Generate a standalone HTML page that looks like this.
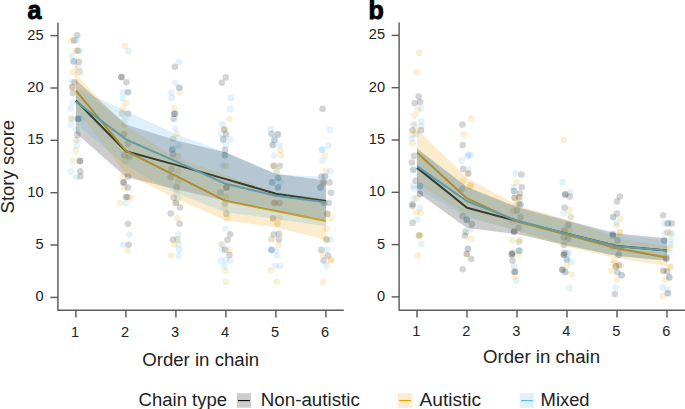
<!DOCTYPE html>
<html><head><meta charset="utf-8"><style>
html,body{margin:0;padding:0;background:#fff;}
svg{display:block;}
.t{font-family:"Liberation Sans",sans-serif;font-size:14.6px;fill:#222;}
.l{font-family:"Liberation Sans",sans-serif;font-size:17.6px;fill:#222;}
.pl{font-family:"Liberation Sans",sans-serif;font-size:25px;font-weight:bold;fill:#000;stroke:#000;stroke-width:0.9px;}
</style></head><body>
<svg width="685" height="409" viewBox="0 0 685 409">
<circle cx="77.1" cy="35.3" r="3.3" fill="#000000" fill-opacity="0.17"/>
<circle cx="71.5" cy="40.8" r="3.3" fill="#E69F00" fill-opacity="0.17"/>
<circle cx="74.2" cy="40.4" r="3.3" fill="#000000" fill-opacity="0.17"/>
<circle cx="76.7" cy="40.4" r="3.3" fill="#56B4E9" fill-opacity="0.17"/>
<circle cx="75.6" cy="50.7" r="3.3" fill="#E69F00" fill-opacity="0.17"/>
<circle cx="77.7" cy="50.7" r="3.3" fill="#000000" fill-opacity="0.17"/>
<circle cx="80.0" cy="50.7" r="3.3" fill="#56B4E9" fill-opacity="0.17"/>
<circle cx="71.8" cy="55.8" r="3.3" fill="#56B4E9" fill-opacity="0.17"/>
<circle cx="73.7" cy="61.4" r="3.3" fill="#000000" fill-opacity="0.17"/>
<circle cx="73.7" cy="61.4" r="3.3" fill="#56B4E9" fill-opacity="0.17"/>
<circle cx="78.9" cy="61.7" r="3.3" fill="#000000" fill-opacity="0.17"/>
<circle cx="78.9" cy="66.8" r="3.3" fill="#56B4E9" fill-opacity="0.17"/>
<circle cx="73.0" cy="71.9" r="3.3" fill="#E69F00" fill-opacity="0.17"/>
<circle cx="79.6" cy="71.9" r="3.3" fill="#56B4E9" fill-opacity="0.17"/>
<circle cx="79.6" cy="71.9" r="3.3" fill="#E69F00" fill-opacity="0.17"/>
<circle cx="71.5" cy="82.2" r="3.3" fill="#56B4E9" fill-opacity="0.17"/>
<circle cx="74.5" cy="82.2" r="3.3" fill="#000000" fill-opacity="0.17"/>
<circle cx="125.0" cy="46.0" r="3.3" fill="#E69F00" fill-opacity="0.17"/>
<circle cx="128.4" cy="51.1" r="3.3" fill="#56B4E9" fill-opacity="0.17"/>
<circle cx="121.4" cy="77.1" r="3.3" fill="#000000" fill-opacity="0.17"/>
<circle cx="121.4" cy="77.1" r="3.3" fill="#000000" fill-opacity="0.17"/>
<circle cx="126.5" cy="82.2" r="3.3" fill="#000000" fill-opacity="0.17"/>
<circle cx="72.3" cy="87.2" r="3.3" fill="#E69F00" fill-opacity="0.17"/>
<circle cx="72.3" cy="87.2" r="3.3" fill="#000000" fill-opacity="0.17"/>
<circle cx="73.0" cy="93.1" r="3.3" fill="#000000" fill-opacity="0.17"/>
<circle cx="72.7" cy="102.6" r="3.3" fill="#56B4E9" fill-opacity="0.17"/>
<circle cx="70.8" cy="108.5" r="3.3" fill="#56B4E9" fill-opacity="0.17"/>
<circle cx="71.5" cy="118.7" r="3.3" fill="#E69F00" fill-opacity="0.17"/>
<circle cx="71.5" cy="118.7" r="3.3" fill="#56B4E9" fill-opacity="0.17"/>
<circle cx="78.1" cy="118.7" r="3.3" fill="#000000" fill-opacity="0.17"/>
<circle cx="78.1" cy="118.7" r="3.3" fill="#000000" fill-opacity="0.17"/>
<circle cx="81.1" cy="118.7" r="3.3" fill="#56B4E9" fill-opacity="0.17"/>
<circle cx="70.8" cy="124.6" r="3.3" fill="#56B4E9" fill-opacity="0.17"/>
<circle cx="75.9" cy="129.7" r="3.3" fill="#56B4E9" fill-opacity="0.17"/>
<circle cx="77.4" cy="134.9" r="3.3" fill="#000000" fill-opacity="0.17"/>
<circle cx="75.9" cy="140.0" r="3.3" fill="#E69F00" fill-opacity="0.17"/>
<circle cx="78.0" cy="140.0" r="3.3" fill="#56B4E9" fill-opacity="0.17"/>
<circle cx="122.8" cy="92.3" r="3.3" fill="#56B4E9" fill-opacity="0.17"/>
<circle cx="128.0" cy="92.3" r="3.3" fill="#000000" fill-opacity="0.17"/>
<circle cx="128.0" cy="92.3" r="3.3" fill="#56B4E9" fill-opacity="0.17"/>
<circle cx="122.8" cy="98.2" r="3.3" fill="#56B4E9" fill-opacity="0.17"/>
<circle cx="125.8" cy="103.3" r="3.3" fill="#E69F00" fill-opacity="0.17"/>
<circle cx="122.8" cy="108.5" r="3.3" fill="#E69F00" fill-opacity="0.17"/>
<circle cx="122.1" cy="113.6" r="3.3" fill="#56B4E9" fill-opacity="0.17"/>
<circle cx="122.1" cy="113.6" r="3.3" fill="#E69F00" fill-opacity="0.17"/>
<circle cx="128.0" cy="113.6" r="3.3" fill="#000000" fill-opacity="0.17"/>
<circle cx="125.0" cy="119.5" r="3.3" fill="#56B4E9" fill-opacity="0.17"/>
<circle cx="124.3" cy="124.6" r="3.3" fill="#E69F00" fill-opacity="0.17"/>
<circle cx="124.0" cy="134.1" r="3.3" fill="#000000" fill-opacity="0.17"/>
<circle cx="128.0" cy="143.7" r="3.3" fill="#000000" fill-opacity="0.17"/>
<circle cx="76.7" cy="145.7" r="3.3" fill="#56B4E9" fill-opacity="0.17"/>
<circle cx="75.9" cy="150.6" r="3.3" fill="#E69F00" fill-opacity="0.17"/>
<circle cx="73.3" cy="161.1" r="3.3" fill="#E69F00" fill-opacity="0.17"/>
<circle cx="80.0" cy="161.1" r="3.3" fill="#000000" fill-opacity="0.17"/>
<circle cx="80.0" cy="161.1" r="3.3" fill="#000000" fill-opacity="0.17"/>
<circle cx="70.8" cy="171.4" r="3.3" fill="#56B4E9" fill-opacity="0.17"/>
<circle cx="80.3" cy="171.4" r="3.3" fill="#000000" fill-opacity="0.17"/>
<circle cx="76.2" cy="177.0" r="3.3" fill="#56B4E9" fill-opacity="0.17"/>
<circle cx="80.6" cy="176.5" r="3.3" fill="#000000" fill-opacity="0.17"/>
<circle cx="124.3" cy="155.3" r="3.3" fill="#000000" fill-opacity="0.17"/>
<circle cx="129.4" cy="156.7" r="3.3" fill="#000000" fill-opacity="0.17"/>
<circle cx="125.0" cy="161.1" r="3.3" fill="#E69F00" fill-opacity="0.17"/>
<circle cx="122.8" cy="176.5" r="3.3" fill="#E69F00" fill-opacity="0.17"/>
<circle cx="128.0" cy="176.5" r="3.3" fill="#000000" fill-opacity="0.17"/>
<circle cx="123.6" cy="182.4" r="3.3" fill="#000000" fill-opacity="0.17"/>
<circle cx="123.6" cy="182.4" r="3.3" fill="#000000" fill-opacity="0.17"/>
<circle cx="124.3" cy="187.5" r="3.3" fill="#E69F00" fill-opacity="0.17"/>
<circle cx="128.0" cy="187.5" r="3.3" fill="#000000" fill-opacity="0.17"/>
<circle cx="125.8" cy="197.0" r="3.3" fill="#000000" fill-opacity="0.17"/>
<circle cx="127.5" cy="197.0" r="3.3" fill="#000000" fill-opacity="0.17"/>
<circle cx="130.9" cy="197.8" r="3.3" fill="#E69F00" fill-opacity="0.17"/>
<circle cx="119.9" cy="203.0" r="3.3" fill="#E69F00" fill-opacity="0.17"/>
<circle cx="125.8" cy="203.0" r="3.3" fill="#56B4E9" fill-opacity="0.17"/>
<circle cx="128.0" cy="223.8" r="3.3" fill="#000000" fill-opacity="0.17"/>
<circle cx="129.4" cy="234.5" r="3.3" fill="#56B4E9" fill-opacity="0.17"/>
<circle cx="123.1" cy="244.7" r="3.3" fill="#56B4E9" fill-opacity="0.17"/>
<circle cx="128.7" cy="244.7" r="3.3" fill="#000000" fill-opacity="0.17"/>
<circle cx="127.5" cy="250.6" r="3.3" fill="#E69F00" fill-opacity="0.17"/>
<circle cx="179.3" cy="62.0" r="3.3" fill="#56B4E9" fill-opacity="0.17"/>
<circle cx="174.9" cy="66.8" r="3.3" fill="#000000" fill-opacity="0.17"/>
<circle cx="175.2" cy="82.8" r="3.3" fill="#56B4E9" fill-opacity="0.17"/>
<circle cx="179.3" cy="87.7" r="3.3" fill="#000000" fill-opacity="0.17"/>
<circle cx="179.3" cy="87.7" r="3.3" fill="#56B4E9" fill-opacity="0.17"/>
<circle cx="171.5" cy="92.5" r="3.3" fill="#56B4E9" fill-opacity="0.17"/>
<circle cx="179.6" cy="92.8" r="3.3" fill="#E69F00" fill-opacity="0.17"/>
<circle cx="171.5" cy="97.9" r="3.3" fill="#56B4E9" fill-opacity="0.17"/>
<circle cx="225.8" cy="77.4" r="3.3" fill="#000000" fill-opacity="0.17"/>
<circle cx="221.8" cy="82.8" r="3.3" fill="#000000" fill-opacity="0.17"/>
<circle cx="230.9" cy="97.9" r="3.3" fill="#56B4E9" fill-opacity="0.17"/>
<circle cx="174.2" cy="108.2" r="3.3" fill="#E69F00" fill-opacity="0.17"/>
<circle cx="174.5" cy="113.8" r="3.3" fill="#000000" fill-opacity="0.17"/>
<circle cx="174.5" cy="113.8" r="3.3" fill="#000000" fill-opacity="0.17"/>
<circle cx="175.5" cy="113.8" r="3.3" fill="#56B4E9" fill-opacity="0.17"/>
<circle cx="173.7" cy="118.8" r="3.3" fill="#000000" fill-opacity="0.17"/>
<circle cx="175.2" cy="129.0" r="3.3" fill="#56B4E9" fill-opacity="0.17"/>
<circle cx="176.7" cy="134.3" r="3.3" fill="#E69F00" fill-opacity="0.17"/>
<circle cx="173.0" cy="139.0" r="3.3" fill="#E69F00" fill-opacity="0.17"/>
<circle cx="173.0" cy="139.0" r="3.3" fill="#56B4E9" fill-opacity="0.17"/>
<circle cx="172.3" cy="149.5" r="3.3" fill="#56B4E9" fill-opacity="0.17"/>
<circle cx="172.3" cy="149.5" r="3.3" fill="#000000" fill-opacity="0.17"/>
<circle cx="178.1" cy="145.6" r="3.3" fill="#56B4E9" fill-opacity="0.17"/>
<circle cx="230.2" cy="108.9" r="3.3" fill="#56B4E9" fill-opacity="0.17"/>
<circle cx="229.4" cy="119.2" r="3.3" fill="#E69F00" fill-opacity="0.17"/>
<circle cx="222.1" cy="124.3" r="3.3" fill="#56B4E9" fill-opacity="0.17"/>
<circle cx="224.3" cy="129.5" r="3.3" fill="#E69F00" fill-opacity="0.17"/>
<circle cx="224.3" cy="129.5" r="3.3" fill="#000000" fill-opacity="0.17"/>
<circle cx="226.1" cy="134.3" r="3.3" fill="#000000" fill-opacity="0.17"/>
<circle cx="221.4" cy="134.3" r="3.3" fill="#56B4E9" fill-opacity="0.17"/>
<circle cx="223.3" cy="139.4" r="3.3" fill="#000000" fill-opacity="0.17"/>
<circle cx="223.3" cy="139.4" r="3.3" fill="#56B4E9" fill-opacity="0.17"/>
<circle cx="229.9" cy="139.4" r="3.3" fill="#56B4E9" fill-opacity="0.17"/>
<circle cx="225.8" cy="144.9" r="3.3" fill="#56B4E9" fill-opacity="0.17"/>
<circle cx="225.0" cy="150.0" r="3.3" fill="#000000" fill-opacity="0.17"/>
<circle cx="173.0" cy="154.4" r="3.3" fill="#000000" fill-opacity="0.17"/>
<circle cx="178.1" cy="155.9" r="3.3" fill="#E69F00" fill-opacity="0.17"/>
<circle cx="171.5" cy="169.1" r="3.3" fill="#000000" fill-opacity="0.17"/>
<circle cx="178.1" cy="171.3" r="3.3" fill="#E69F00" fill-opacity="0.17"/>
<circle cx="170.8" cy="177.1" r="3.3" fill="#000000" fill-opacity="0.17"/>
<circle cx="178.1" cy="181.5" r="3.3" fill="#E69F00" fill-opacity="0.17"/>
<circle cx="176.7" cy="187.4" r="3.3" fill="#000000" fill-opacity="0.17"/>
<circle cx="176.7" cy="192.5" r="3.3" fill="#56B4E9" fill-opacity="0.17"/>
<circle cx="173.7" cy="197.7" r="3.3" fill="#000000" fill-opacity="0.17"/>
<circle cx="178.5" cy="197.7" r="3.3" fill="#56B4E9" fill-opacity="0.17"/>
<circle cx="175.9" cy="202.8" r="3.3" fill="#E69F00" fill-opacity="0.17"/>
<circle cx="175.9" cy="202.8" r="3.3" fill="#000000" fill-opacity="0.17"/>
<circle cx="180.0" cy="207.5" r="3.3" fill="#000000" fill-opacity="0.17"/>
<circle cx="225.0" cy="155.1" r="3.3" fill="#000000" fill-opacity="0.17"/>
<circle cx="225.0" cy="155.1" r="3.3" fill="#56B4E9" fill-opacity="0.17"/>
<circle cx="222.8" cy="165.8" r="3.3" fill="#56B4E9" fill-opacity="0.17"/>
<circle cx="226.0" cy="165.8" r="3.3" fill="#E69F00" fill-opacity="0.17"/>
<circle cx="226.5" cy="187.4" r="3.3" fill="#000000" fill-opacity="0.17"/>
<circle cx="226.5" cy="187.4" r="3.3" fill="#000000" fill-opacity="0.17"/>
<circle cx="220.6" cy="192.5" r="3.3" fill="#000000" fill-opacity="0.17"/>
<circle cx="225.8" cy="196.9" r="3.3" fill="#E69F00" fill-opacity="0.17"/>
<circle cx="225.0" cy="203.5" r="3.3" fill="#000000" fill-opacity="0.17"/>
<circle cx="225.0" cy="207.9" r="3.3" fill="#E69F00" fill-opacity="0.17"/>
<circle cx="226.5" cy="213.8" r="3.3" fill="#000000" fill-opacity="0.17"/>
<circle cx="170.8" cy="213.5" r="3.3" fill="#000000" fill-opacity="0.17"/>
<circle cx="177.1" cy="218.2" r="3.3" fill="#E69F00" fill-opacity="0.17"/>
<circle cx="179.6" cy="223.8" r="3.3" fill="#000000" fill-opacity="0.17"/>
<circle cx="227.0" cy="218.5" r="3.3" fill="#E69F00" fill-opacity="0.17"/>
<circle cx="178.1" cy="234.3" r="3.3" fill="#56B4E9" fill-opacity="0.17"/>
<circle cx="173.0" cy="239.5" r="3.3" fill="#000000" fill-opacity="0.17"/>
<circle cx="177.4" cy="239.5" r="3.3" fill="#56B4E9" fill-opacity="0.17"/>
<circle cx="177.4" cy="239.5" r="3.3" fill="#E69F00" fill-opacity="0.17"/>
<circle cx="174.5" cy="244.6" r="3.3" fill="#E69F00" fill-opacity="0.17"/>
<circle cx="178.9" cy="244.6" r="3.3" fill="#56B4E9" fill-opacity="0.17"/>
<circle cx="179.2" cy="249.7" r="3.3" fill="#56B4E9" fill-opacity="0.17"/>
<circle cx="171.1" cy="255.6" r="3.3" fill="#E69F00" fill-opacity="0.17"/>
<circle cx="178.6" cy="255.6" r="3.3" fill="#56B4E9" fill-opacity="0.17"/>
<circle cx="225.8" cy="228.5" r="3.3" fill="#56B4E9" fill-opacity="0.17"/>
<circle cx="230.2" cy="234.3" r="3.3" fill="#000000" fill-opacity="0.17"/>
<circle cx="227.5" cy="239.8" r="3.3" fill="#000000" fill-opacity="0.17"/>
<circle cx="220.6" cy="244.6" r="3.3" fill="#E69F00" fill-opacity="0.17"/>
<circle cx="222.8" cy="244.6" r="3.3" fill="#56B4E9" fill-opacity="0.17"/>
<circle cx="222.1" cy="249.7" r="3.3" fill="#56B4E9" fill-opacity="0.17"/>
<circle cx="225.0" cy="249.7" r="3.3" fill="#000000" fill-opacity="0.17"/>
<circle cx="229.4" cy="249.7" r="3.3" fill="#E69F00" fill-opacity="0.17"/>
<circle cx="229.4" cy="254.9" r="3.3" fill="#000000" fill-opacity="0.17"/>
<circle cx="220.6" cy="260.4" r="3.3" fill="#56B4E9" fill-opacity="0.17"/>
<circle cx="225.8" cy="260.4" r="3.3" fill="#56B4E9" fill-opacity="0.17"/>
<circle cx="230.2" cy="260.4" r="3.3" fill="#56B4E9" fill-opacity="0.17"/>
<circle cx="224.0" cy="266.0" r="3.3" fill="#56B4E9" fill-opacity="0.17"/>
<circle cx="225.8" cy="271.1" r="3.3" fill="#E69F00" fill-opacity="0.17"/>
<circle cx="225.8" cy="281.8" r="3.3" fill="#E69F00" fill-opacity="0.17"/>
<circle cx="270.8" cy="129.3" r="3.3" fill="#56B4E9" fill-opacity="0.17"/>
<circle cx="271.5" cy="134.0" r="3.3" fill="#000000" fill-opacity="0.17"/>
<circle cx="277.8" cy="134.4" r="3.3" fill="#000000" fill-opacity="0.17"/>
<circle cx="277.8" cy="134.4" r="3.3" fill="#56B4E9" fill-opacity="0.17"/>
<circle cx="274.5" cy="139.9" r="3.3" fill="#000000" fill-opacity="0.17"/>
<circle cx="274.5" cy="139.9" r="3.3" fill="#56B4E9" fill-opacity="0.17"/>
<circle cx="272.7" cy="145.0" r="3.3" fill="#000000" fill-opacity="0.17"/>
<circle cx="272.7" cy="145.0" r="3.3" fill="#56B4E9" fill-opacity="0.17"/>
<circle cx="279.6" cy="145.0" r="3.3" fill="#56B4E9" fill-opacity="0.17"/>
<circle cx="280.3" cy="150.6" r="3.3" fill="#E69F00" fill-opacity="0.17"/>
<circle cx="274.2" cy="155.6" r="3.3" fill="#56B4E9" fill-opacity="0.17"/>
<circle cx="280.8" cy="155.3" r="3.3" fill="#E69F00" fill-opacity="0.17"/>
<circle cx="273.7" cy="165.8" r="3.3" fill="#E69F00" fill-opacity="0.17"/>
<circle cx="273.7" cy="165.8" r="3.3" fill="#000000" fill-opacity="0.17"/>
<circle cx="279.9" cy="165.8" r="3.3" fill="#000000" fill-opacity="0.17"/>
<circle cx="276.7" cy="171.4" r="3.3" fill="#56B4E9" fill-opacity="0.17"/>
<circle cx="276.7" cy="171.4" r="3.3" fill="#E69F00" fill-opacity="0.17"/>
<circle cx="278.1" cy="178.0" r="3.3" fill="#000000" fill-opacity="0.17"/>
<circle cx="278.1" cy="178.0" r="3.3" fill="#56B4E9" fill-opacity="0.17"/>
<circle cx="272.3" cy="182.4" r="3.3" fill="#000000" fill-opacity="0.17"/>
<circle cx="272.3" cy="182.4" r="3.3" fill="#56B4E9" fill-opacity="0.17"/>
<circle cx="280.3" cy="182.4" r="3.3" fill="#56B4E9" fill-opacity="0.17"/>
<circle cx="278.1" cy="187.5" r="3.3" fill="#000000" fill-opacity="0.17"/>
<circle cx="278.1" cy="187.5" r="3.3" fill="#56B4E9" fill-opacity="0.17"/>
<circle cx="274.5" cy="202.2" r="3.3" fill="#E69F00" fill-opacity="0.17"/>
<circle cx="274.5" cy="203.0" r="3.3" fill="#000000" fill-opacity="0.17"/>
<circle cx="279.6" cy="203.0" r="3.3" fill="#000000" fill-opacity="0.17"/>
<circle cx="273.0" cy="218.3" r="3.3" fill="#E69F00" fill-opacity="0.17"/>
<circle cx="273.0" cy="218.3" r="3.3" fill="#000000" fill-opacity="0.17"/>
<circle cx="279.6" cy="218.3" r="3.3" fill="#E69F00" fill-opacity="0.17"/>
<circle cx="277.4" cy="223.5" r="3.3" fill="#E69F00" fill-opacity="0.17"/>
<circle cx="277.4" cy="223.5" r="3.3" fill="#E69F00" fill-opacity="0.17"/>
<circle cx="273.7" cy="234.5" r="3.3" fill="#000000" fill-opacity="0.17"/>
<circle cx="278.9" cy="233.7" r="3.3" fill="#000000" fill-opacity="0.17"/>
<circle cx="271.5" cy="239.3" r="3.3" fill="#56B4E9" fill-opacity="0.17"/>
<circle cx="271.5" cy="239.3" r="3.3" fill="#E69F00" fill-opacity="0.17"/>
<circle cx="278.9" cy="239.6" r="3.3" fill="#000000" fill-opacity="0.17"/>
<circle cx="278.6" cy="244.7" r="3.3" fill="#E69F00" fill-opacity="0.17"/>
<circle cx="271.5" cy="249.9" r="3.3" fill="#000000" fill-opacity="0.17"/>
<circle cx="271.5" cy="249.9" r="3.3" fill="#56B4E9" fill-opacity="0.17"/>
<circle cx="271.5" cy="249.9" r="3.3" fill="#56B4E9" fill-opacity="0.17"/>
<circle cx="275.9" cy="250.6" r="3.3" fill="#56B4E9" fill-opacity="0.17"/>
<circle cx="277.1" cy="255.7" r="3.3" fill="#56B4E9" fill-opacity="0.17"/>
<circle cx="275.2" cy="265.6" r="3.3" fill="#56B4E9" fill-opacity="0.17"/>
<circle cx="280.0" cy="266.0" r="3.3" fill="#56B4E9" fill-opacity="0.17"/>
<circle cx="270.8" cy="270.4" r="3.3" fill="#E69F00" fill-opacity="0.17"/>
<circle cx="276.7" cy="281.8" r="3.3" fill="#E69F00" fill-opacity="0.17"/>
<circle cx="322.6" cy="108.8" r="3.3" fill="#000000" fill-opacity="0.17"/>
<circle cx="329.7" cy="129.6" r="3.3" fill="#56B4E9" fill-opacity="0.17"/>
<circle cx="328.0" cy="145.7" r="3.3" fill="#56B4E9" fill-opacity="0.17"/>
<circle cx="322.1" cy="149.4" r="3.3" fill="#56B4E9" fill-opacity="0.17"/>
<circle cx="322.1" cy="150.1" r="3.3" fill="#56B4E9" fill-opacity="0.17"/>
<circle cx="325.0" cy="155.6" r="3.3" fill="#E69F00" fill-opacity="0.17"/>
<circle cx="322.6" cy="160.8" r="3.3" fill="#56B4E9" fill-opacity="0.17"/>
<circle cx="325.8" cy="171.1" r="3.3" fill="#E69F00" fill-opacity="0.17"/>
<circle cx="330.2" cy="171.4" r="3.3" fill="#56B4E9" fill-opacity="0.17"/>
<circle cx="321.4" cy="176.5" r="3.3" fill="#000000" fill-opacity="0.17"/>
<circle cx="325.0" cy="176.5" r="3.3" fill="#000000" fill-opacity="0.17"/>
<circle cx="325.0" cy="176.5" r="3.3" fill="#56B4E9" fill-opacity="0.17"/>
<circle cx="323.6" cy="182.4" r="3.3" fill="#000000" fill-opacity="0.17"/>
<circle cx="323.6" cy="182.4" r="3.3" fill="#E69F00" fill-opacity="0.17"/>
<circle cx="329.4" cy="182.4" r="3.3" fill="#000000" fill-opacity="0.17"/>
<circle cx="320.6" cy="187.5" r="3.3" fill="#000000" fill-opacity="0.17"/>
<circle cx="320.6" cy="187.5" r="3.3" fill="#56B4E9" fill-opacity="0.17"/>
<circle cx="330.9" cy="192.7" r="3.3" fill="#000000" fill-opacity="0.17"/>
<circle cx="328.7" cy="202.9" r="3.3" fill="#000000" fill-opacity="0.17"/>
<circle cx="324.0" cy="203.0" r="3.3" fill="#000000" fill-opacity="0.17"/>
<circle cx="324.0" cy="203.0" r="3.3" fill="#56B4E9" fill-opacity="0.17"/>
<circle cx="327.2" cy="213.9" r="3.3" fill="#E69F00" fill-opacity="0.17"/>
<circle cx="327.2" cy="213.9" r="3.3" fill="#000000" fill-opacity="0.17"/>
<circle cx="330.9" cy="218.3" r="3.3" fill="#E69F00" fill-opacity="0.17"/>
<circle cx="326.5" cy="228.6" r="3.3" fill="#E69F00" fill-opacity="0.17"/>
<circle cx="326.5" cy="239.6" r="3.3" fill="#000000" fill-opacity="0.17"/>
<circle cx="326.5" cy="239.6" r="3.3" fill="#E69F00" fill-opacity="0.17"/>
<circle cx="330.2" cy="239.6" r="3.3" fill="#56B4E9" fill-opacity="0.17"/>
<circle cx="321.4" cy="249.9" r="3.3" fill="#000000" fill-opacity="0.17"/>
<circle cx="327.2" cy="249.9" r="3.3" fill="#56B4E9" fill-opacity="0.17"/>
<circle cx="322.8" cy="255.0" r="3.3" fill="#E69F00" fill-opacity="0.17"/>
<circle cx="328.0" cy="255.7" r="3.3" fill="#000000" fill-opacity="0.17"/>
<circle cx="330.9" cy="259.4" r="3.3" fill="#E69F00" fill-opacity="0.17"/>
<circle cx="323.6" cy="260.6" r="3.3" fill="#000000" fill-opacity="0.17"/>
<circle cx="330.9" cy="260.6" r="3.3" fill="#E69F00" fill-opacity="0.17"/>
<circle cx="326.5" cy="265.6" r="3.3" fill="#56B4E9" fill-opacity="0.17"/>
<circle cx="323.1" cy="281.8" r="3.3" fill="#E69F00" fill-opacity="0.17"/>
<polyline points="75.9,100.5 125.9,151.3 175.9,164.9 225.9,179.1 275.9,193.7 325.9,201.1" fill="none" stroke="#000000" stroke-width="2.0" stroke-linejoin="round"/>
<polyline points="75.9,90.6 125.9,150.8 175.9,175.9 225.9,201.1 275.9,211.0 325.9,221.0" fill="none" stroke="#E69F00" stroke-width="2.0" stroke-linejoin="round"/>
<polyline points="75.9,101.6 125.9,139.3 175.9,161.3 225.9,183.8 275.9,195.8 325.9,202.3" fill="none" stroke="#56B4E9" stroke-width="2.0" stroke-linejoin="round"/>
<polygon points="75.9,80.1 125.9,124.6 175.9,140.3 225.9,152.4 275.9,173.8 325.9,180.6 325.9,219.9 275.9,210.8 225.9,201.1 175.9,189.2 125.9,177.0 75.9,133.0" fill="#000000" fill-opacity="0.2"/>
<polygon points="75.9,74.9 125.9,125.7 175.9,158.1 225.9,174.9 275.9,192.7 325.9,197.9 325.9,239.8 275.9,227.2 225.9,220.4 175.9,198.6 125.9,173.8 75.9,109.2" fill="#E69F00" fill-opacity="0.2"/>
<polygon points="75.9,88.0 125.9,111.0 175.9,134.0 225.9,152.4 275.9,174.4 325.9,177.0 325.9,226.2 275.9,218.9 225.9,212.3 175.9,193.0 125.9,165.5 75.9,123.6" fill="#56B4E9" fill-opacity="0.2"/>
<circle cx="518.6" cy="204.0" r="3.3" fill="#000000" fill-opacity="0.17"/>
<circle cx="517.0" cy="210.4" r="3.3" fill="#000000" fill-opacity="0.17"/>
<circle cx="512.4" cy="221.4" r="3.3" fill="#56B4E9" fill-opacity="0.17"/>
<circle cx="518.6" cy="227.7" r="3.3" fill="#000000" fill-opacity="0.17"/>
<circle cx="520.0" cy="240.0" r="3.3" fill="#E69F00" fill-opacity="0.17"/>
<circle cx="570.4" cy="216.7" r="3.3" fill="#56B4E9" fill-opacity="0.17"/>
<circle cx="564.2" cy="230.8" r="3.3" fill="#E69F00" fill-opacity="0.17"/>
<circle cx="564.2" cy="230.8" r="3.3" fill="#000000" fill-opacity="0.17"/>
<circle cx="612.8" cy="235.5" r="3.3" fill="#000000" fill-opacity="0.17"/>
<circle cx="612.8" cy="235.5" r="3.3" fill="#56B4E9" fill-opacity="0.17"/>
<circle cx="617.5" cy="240.2" r="3.3" fill="#000000" fill-opacity="0.17"/>
<circle cx="617.5" cy="240.2" r="3.3" fill="#56B4E9" fill-opacity="0.17"/>
<circle cx="612.8" cy="246.5" r="3.3" fill="#000000" fill-opacity="0.17"/>
<circle cx="620.7" cy="248.0" r="3.3" fill="#000000" fill-opacity="0.17"/>
<circle cx="614.4" cy="260.6" r="3.3" fill="#E69F00" fill-opacity="0.17"/>
<circle cx="619.0" cy="265.3" r="3.3" fill="#000000" fill-opacity="0.17"/>
<circle cx="667.7" cy="232.4" r="3.3" fill="#56B4E9" fill-opacity="0.17"/>
<circle cx="667.7" cy="232.4" r="3.3" fill="#E69F00" fill-opacity="0.17"/>
<circle cx="670.9" cy="244.9" r="3.3" fill="#56B4E9" fill-opacity="0.17"/>
<circle cx="666.2" cy="249.6" r="3.3" fill="#E69F00" fill-opacity="0.17"/>
<circle cx="669.3" cy="252.8" r="3.3" fill="#56B4E9" fill-opacity="0.17"/>
<circle cx="666.2" cy="257.5" r="3.3" fill="#000000" fill-opacity="0.17"/>
<circle cx="670.9" cy="266.9" r="3.3" fill="#E69F00" fill-opacity="0.17"/>
<circle cx="419.4" cy="52.9" r="3.3" fill="#E69F00" fill-opacity="0.17"/>
<circle cx="416.6" cy="72.6" r="3.3" fill="#E69F00" fill-opacity="0.17"/>
<circle cx="418.7" cy="96.5" r="3.3" fill="#000000" fill-opacity="0.17"/>
<circle cx="414.7" cy="103.1" r="3.3" fill="#000000" fill-opacity="0.17"/>
<circle cx="420.2" cy="102.0" r="3.3" fill="#000000" fill-opacity="0.17"/>
<circle cx="417.7" cy="109.7" r="3.3" fill="#E69F00" fill-opacity="0.17"/>
<circle cx="421.0" cy="108.2" r="3.3" fill="#56B4E9" fill-opacity="0.17"/>
<circle cx="414.7" cy="115.5" r="3.3" fill="#E69F00" fill-opacity="0.17"/>
<circle cx="421.3" cy="121.1" r="3.3" fill="#56B4E9" fill-opacity="0.17"/>
<circle cx="413.3" cy="124.3" r="3.3" fill="#56B4E9" fill-opacity="0.17"/>
<circle cx="414.7" cy="125.1" r="3.3" fill="#E69F00" fill-opacity="0.17"/>
<circle cx="421.3" cy="125.8" r="3.3" fill="#56B4E9" fill-opacity="0.17"/>
<circle cx="412.5" cy="130.2" r="3.3" fill="#000000" fill-opacity="0.17"/>
<circle cx="421.0" cy="130.2" r="3.3" fill="#000000" fill-opacity="0.17"/>
<circle cx="416.2" cy="130.9" r="3.3" fill="#E69F00" fill-opacity="0.17"/>
<circle cx="412.5" cy="134.6" r="3.3" fill="#E69F00" fill-opacity="0.17"/>
<circle cx="416.0" cy="134.0" r="3.3" fill="#56B4E9" fill-opacity="0.17"/>
<circle cx="411.8" cy="139.0" r="3.3" fill="#56B4E9" fill-opacity="0.17"/>
<circle cx="412.5" cy="143.4" r="3.3" fill="#E69F00" fill-opacity="0.17"/>
<circle cx="471.2" cy="118.5" r="3.3" fill="#E69F00" fill-opacity="0.17"/>
<circle cx="462.4" cy="124.6" r="3.3" fill="#000000" fill-opacity="0.17"/>
<circle cx="463.8" cy="134.3" r="3.3" fill="#E69F00" fill-opacity="0.17"/>
<circle cx="462.7" cy="145.1" r="3.3" fill="#000000" fill-opacity="0.17"/>
<circle cx="468.2" cy="154.4" r="3.3" fill="#56B4E9" fill-opacity="0.17"/>
<circle cx="414.0" cy="155.9" r="3.3" fill="#000000" fill-opacity="0.17"/>
<circle cx="411.8" cy="162.5" r="3.3" fill="#000000" fill-opacity="0.17"/>
<circle cx="413.3" cy="169.8" r="3.3" fill="#000000" fill-opacity="0.17"/>
<circle cx="413.3" cy="169.8" r="3.3" fill="#56B4E9" fill-opacity="0.17"/>
<circle cx="415.5" cy="180.8" r="3.3" fill="#000000" fill-opacity="0.17"/>
<circle cx="413.3" cy="185.9" r="3.3" fill="#56B4E9" fill-opacity="0.17"/>
<circle cx="419.9" cy="185.9" r="3.3" fill="#000000" fill-opacity="0.17"/>
<circle cx="419.9" cy="185.9" r="3.3" fill="#56B4E9" fill-opacity="0.17"/>
<circle cx="414.0" cy="188.5" r="3.3" fill="#56B4E9" fill-opacity="0.17"/>
<circle cx="419.9" cy="194.0" r="3.3" fill="#56B4E9" fill-opacity="0.17"/>
<circle cx="419.9" cy="194.0" r="3.3" fill="#000000" fill-opacity="0.17"/>
<circle cx="416.9" cy="198.4" r="3.3" fill="#E69F00" fill-opacity="0.17"/>
<circle cx="414.0" cy="198.4" r="3.3" fill="#56B4E9" fill-opacity="0.17"/>
<circle cx="412.5" cy="204.3" r="3.3" fill="#000000" fill-opacity="0.17"/>
<circle cx="412.5" cy="205.7" r="3.3" fill="#000000" fill-opacity="0.17"/>
<circle cx="419.9" cy="207.9" r="3.3" fill="#56B4E9" fill-opacity="0.17"/>
<circle cx="416.2" cy="212.6" r="3.3" fill="#E69F00" fill-opacity="0.17"/>
<circle cx="420.6" cy="213.1" r="3.3" fill="#E69F00" fill-opacity="0.17"/>
<circle cx="417.0" cy="219.7" r="3.3" fill="#56B4E9" fill-opacity="0.17"/>
<circle cx="412.5" cy="222.9" r="3.3" fill="#000000" fill-opacity="0.17"/>
<circle cx="419.1" cy="235.5" r="3.3" fill="#000000" fill-opacity="0.17"/>
<circle cx="419.1" cy="235.5" r="3.3" fill="#E69F00" fill-opacity="0.17"/>
<circle cx="420.6" cy="235.0" r="3.3" fill="#E69F00" fill-opacity="0.17"/>
<circle cx="421.3" cy="243.9" r="3.3" fill="#56B4E9" fill-opacity="0.17"/>
<circle cx="417.7" cy="255.6" r="3.3" fill="#E69F00" fill-opacity="0.17"/>
<circle cx="461.6" cy="160.3" r="3.3" fill="#56B4E9" fill-opacity="0.17"/>
<circle cx="467.5" cy="156.6" r="3.3" fill="#56B4E9" fill-opacity="0.17"/>
<circle cx="470.4" cy="155.1" r="3.3" fill="#56B4E9" fill-opacity="0.17"/>
<circle cx="463.1" cy="169.1" r="3.3" fill="#000000" fill-opacity="0.17"/>
<circle cx="468.2" cy="169.1" r="3.3" fill="#56B4E9" fill-opacity="0.17"/>
<circle cx="468.2" cy="173.5" r="3.3" fill="#000000" fill-opacity="0.17"/>
<circle cx="468.2" cy="173.5" r="3.3" fill="#E69F00" fill-opacity="0.17"/>
<circle cx="463.1" cy="180.8" r="3.3" fill="#E69F00" fill-opacity="0.17"/>
<circle cx="470.4" cy="185.9" r="3.3" fill="#E69F00" fill-opacity="0.17"/>
<circle cx="470.4" cy="185.9" r="3.3" fill="#E69F00" fill-opacity="0.17"/>
<circle cx="462.1" cy="188.9" r="3.3" fill="#000000" fill-opacity="0.17"/>
<circle cx="462.7" cy="216.0" r="3.3" fill="#000000" fill-opacity="0.17"/>
<circle cx="466.8" cy="219.7" r="3.3" fill="#000000" fill-opacity="0.17"/>
<circle cx="466.8" cy="219.7" r="3.3" fill="#56B4E9" fill-opacity="0.17"/>
<circle cx="466.8" cy="219.7" r="3.3" fill="#56B4E9" fill-opacity="0.17"/>
<circle cx="471.9" cy="224.1" r="3.3" fill="#000000" fill-opacity="0.17"/>
<circle cx="465.3" cy="231.4" r="3.3" fill="#56B4E9" fill-opacity="0.17"/>
<circle cx="471.2" cy="229.2" r="3.3" fill="#56B4E9" fill-opacity="0.17"/>
<circle cx="466.0" cy="232.1" r="3.3" fill="#56B4E9" fill-opacity="0.17"/>
<circle cx="466.0" cy="232.1" r="3.3" fill="#E69F00" fill-opacity="0.17"/>
<circle cx="465.0" cy="235.8" r="3.3" fill="#000000" fill-opacity="0.17"/>
<circle cx="471.2" cy="238.7" r="3.3" fill="#E69F00" fill-opacity="0.17"/>
<circle cx="468.0" cy="248.7" r="3.3" fill="#000000" fill-opacity="0.17"/>
<circle cx="468.0" cy="248.7" r="3.3" fill="#56B4E9" fill-opacity="0.17"/>
<circle cx="466.8" cy="254.1" r="3.3" fill="#E69F00" fill-opacity="0.17"/>
<circle cx="466.8" cy="254.1" r="3.3" fill="#000000" fill-opacity="0.17"/>
<circle cx="471.2" cy="259.0" r="3.3" fill="#000000" fill-opacity="0.17"/>
<circle cx="462.7" cy="269.2" r="3.3" fill="#000000" fill-opacity="0.17"/>
<circle cx="563.8" cy="139.9" r="3.3" fill="#E69F00" fill-opacity="0.17"/>
<circle cx="515.5" cy="173.4" r="3.3" fill="#56B4E9" fill-opacity="0.17"/>
<circle cx="521.3" cy="174.5" r="3.3" fill="#000000" fill-opacity="0.17"/>
<circle cx="516.9" cy="182.8" r="3.3" fill="#E69F00" fill-opacity="0.17"/>
<circle cx="513.3" cy="186.9" r="3.3" fill="#56B4E9" fill-opacity="0.17"/>
<circle cx="521.8" cy="187.2" r="3.3" fill="#000000" fill-opacity="0.17"/>
<circle cx="514.0" cy="191.0" r="3.3" fill="#000000" fill-opacity="0.17"/>
<circle cx="514.0" cy="191.0" r="3.3" fill="#56B4E9" fill-opacity="0.17"/>
<circle cx="519.9" cy="193.5" r="3.3" fill="#000000" fill-opacity="0.17"/>
<circle cx="514.7" cy="197.9" r="3.3" fill="#E69F00" fill-opacity="0.17"/>
<circle cx="514.7" cy="197.9" r="3.3" fill="#000000" fill-opacity="0.17"/>
<circle cx="519.1" cy="197.2" r="3.3" fill="#000000" fill-opacity="0.17"/>
<circle cx="520.0" cy="199.0" r="3.3" fill="#E69F00" fill-opacity="0.17"/>
<circle cx="520.6" cy="204.5" r="3.3" fill="#000000" fill-opacity="0.17"/>
<circle cx="520.6" cy="204.5" r="3.3" fill="#56B4E9" fill-opacity="0.17"/>
<circle cx="515.5" cy="204.5" r="3.3" fill="#E69F00" fill-opacity="0.17"/>
<circle cx="513.3" cy="211.1" r="3.3" fill="#56B4E9" fill-opacity="0.17"/>
<circle cx="513.3" cy="211.1" r="3.3" fill="#E69F00" fill-opacity="0.17"/>
<circle cx="520.6" cy="217.0" r="3.3" fill="#000000" fill-opacity="0.17"/>
<circle cx="514.0" cy="231.7" r="3.3" fill="#000000" fill-opacity="0.17"/>
<circle cx="514.0" cy="231.7" r="3.3" fill="#000000" fill-opacity="0.17"/>
<circle cx="512.5" cy="240.5" r="3.3" fill="#E69F00" fill-opacity="0.17"/>
<circle cx="519.1" cy="241.9" r="3.3" fill="#E69F00" fill-opacity="0.17"/>
<circle cx="519.1" cy="241.9" r="3.3" fill="#56B4E9" fill-opacity="0.17"/>
<circle cx="519.1" cy="250.7" r="3.3" fill="#000000" fill-opacity="0.17"/>
<circle cx="519.1" cy="250.7" r="3.3" fill="#56B4E9" fill-opacity="0.17"/>
<circle cx="512.5" cy="252.9" r="3.3" fill="#000000" fill-opacity="0.17"/>
<circle cx="511.8" cy="254.4" r="3.3" fill="#000000" fill-opacity="0.17"/>
<circle cx="511.8" cy="254.4" r="3.3" fill="#000000" fill-opacity="0.17"/>
<circle cx="518.4" cy="254.4" r="3.3" fill="#E69F00" fill-opacity="0.17"/>
<circle cx="519.9" cy="250.7" r="3.3" fill="#56B4E9" fill-opacity="0.17"/>
<circle cx="512.5" cy="260.6" r="3.3" fill="#000000" fill-opacity="0.17"/>
<circle cx="513.7" cy="266.1" r="3.3" fill="#56B4E9" fill-opacity="0.17"/>
<circle cx="514.7" cy="271.7" r="3.3" fill="#000000" fill-opacity="0.17"/>
<circle cx="514.7" cy="271.7" r="3.3" fill="#000000" fill-opacity="0.17"/>
<circle cx="514.7" cy="271.7" r="3.3" fill="#56B4E9" fill-opacity="0.17"/>
<circle cx="514.7" cy="276.4" r="3.3" fill="#E69F00" fill-opacity="0.17"/>
<circle cx="516.2" cy="280.8" r="3.3" fill="#56B4E9" fill-opacity="0.17"/>
<circle cx="562.7" cy="182.2" r="3.3" fill="#56B4E9" fill-opacity="0.17"/>
<circle cx="565.3" cy="194.5" r="3.3" fill="#000000" fill-opacity="0.17"/>
<circle cx="565.3" cy="194.5" r="3.3" fill="#000000" fill-opacity="0.17"/>
<circle cx="570.4" cy="192.0" r="3.3" fill="#56B4E9" fill-opacity="0.17"/>
<circle cx="569.7" cy="196.5" r="3.3" fill="#000000" fill-opacity="0.17"/>
<circle cx="564.6" cy="207.5" r="3.3" fill="#000000" fill-opacity="0.17"/>
<circle cx="569.0" cy="210.4" r="3.3" fill="#E69F00" fill-opacity="0.17"/>
<circle cx="563.8" cy="213.3" r="3.3" fill="#56B4E9" fill-opacity="0.17"/>
<circle cx="571.2" cy="217.0" r="3.3" fill="#E69F00" fill-opacity="0.17"/>
<circle cx="568.2" cy="225.1" r="3.3" fill="#000000" fill-opacity="0.17"/>
<circle cx="568.2" cy="225.1" r="3.3" fill="#56B4E9" fill-opacity="0.17"/>
<circle cx="569.7" cy="230.9" r="3.3" fill="#E69F00" fill-opacity="0.17"/>
<circle cx="563.8" cy="237.5" r="3.3" fill="#000000" fill-opacity="0.17"/>
<circle cx="568.2" cy="239.0" r="3.3" fill="#000000" fill-opacity="0.17"/>
<circle cx="563.8" cy="244.9" r="3.3" fill="#000000" fill-opacity="0.17"/>
<circle cx="564.6" cy="252.9" r="3.3" fill="#000000" fill-opacity="0.17"/>
<circle cx="568.2" cy="252.9" r="3.3" fill="#56B4E9" fill-opacity="0.17"/>
<circle cx="563.8" cy="254.7" r="3.3" fill="#000000" fill-opacity="0.17"/>
<circle cx="563.8" cy="254.7" r="3.3" fill="#000000" fill-opacity="0.17"/>
<circle cx="567.5" cy="253.7" r="3.3" fill="#56B4E9" fill-opacity="0.17"/>
<circle cx="566.8" cy="259.5" r="3.3" fill="#000000" fill-opacity="0.17"/>
<circle cx="566.8" cy="259.5" r="3.3" fill="#56B4E9" fill-opacity="0.17"/>
<circle cx="571.2" cy="262.0" r="3.3" fill="#56B4E9" fill-opacity="0.17"/>
<circle cx="566.8" cy="265.4" r="3.3" fill="#E69F00" fill-opacity="0.17"/>
<circle cx="562.4" cy="269.8" r="3.3" fill="#000000" fill-opacity="0.17"/>
<circle cx="562.4" cy="269.8" r="3.3" fill="#000000" fill-opacity="0.17"/>
<circle cx="565.3" cy="272.0" r="3.3" fill="#000000" fill-opacity="0.17"/>
<circle cx="565.3" cy="272.0" r="3.3" fill="#56B4E9" fill-opacity="0.17"/>
<circle cx="571.5" cy="274.6" r="3.3" fill="#E69F00" fill-opacity="0.17"/>
<circle cx="569.7" cy="288.1" r="3.3" fill="#56B4E9" fill-opacity="0.17"/>
<circle cx="619.8" cy="196.6" r="3.3" fill="#000000" fill-opacity="0.17"/>
<circle cx="617.0" cy="201.4" r="3.3" fill="#000000" fill-opacity="0.17"/>
<circle cx="617.0" cy="213.5" r="3.3" fill="#000000" fill-opacity="0.17"/>
<circle cx="613.2" cy="217.1" r="3.3" fill="#000000" fill-opacity="0.17"/>
<circle cx="613.2" cy="217.1" r="3.3" fill="#56B4E9" fill-opacity="0.17"/>
<circle cx="620.5" cy="218.6" r="3.3" fill="#E69F00" fill-opacity="0.17"/>
<circle cx="616.5" cy="223.0" r="3.3" fill="#56B4E9" fill-opacity="0.17"/>
<circle cx="616.5" cy="225.2" r="3.3" fill="#E69F00" fill-opacity="0.17"/>
<circle cx="619.9" cy="232.5" r="3.3" fill="#E69F00" fill-opacity="0.17"/>
<circle cx="619.9" cy="232.5" r="3.3" fill="#E69F00" fill-opacity="0.17"/>
<circle cx="612.9" cy="234.0" r="3.3" fill="#000000" fill-opacity="0.17"/>
<circle cx="618.7" cy="254.7" r="3.3" fill="#000000" fill-opacity="0.17"/>
<circle cx="618.7" cy="254.7" r="3.3" fill="#56B4E9" fill-opacity="0.17"/>
<circle cx="618.7" cy="254.7" r="3.3" fill="#56B4E9" fill-opacity="0.17"/>
<circle cx="613.6" cy="263.5" r="3.3" fill="#E69F00" fill-opacity="0.17"/>
<circle cx="615.8" cy="266.4" r="3.3" fill="#E69F00" fill-opacity="0.17"/>
<circle cx="615.8" cy="266.4" r="3.3" fill="#000000" fill-opacity="0.17"/>
<circle cx="620.9" cy="265.7" r="3.3" fill="#E69F00" fill-opacity="0.17"/>
<circle cx="611.4" cy="270.8" r="3.3" fill="#E69F00" fill-opacity="0.17"/>
<circle cx="617.3" cy="272.3" r="3.3" fill="#000000" fill-opacity="0.17"/>
<circle cx="621.7" cy="275.2" r="3.3" fill="#000000" fill-opacity="0.17"/>
<circle cx="621.7" cy="275.2" r="3.3" fill="#56B4E9" fill-opacity="0.17"/>
<circle cx="617.3" cy="279.6" r="3.3" fill="#E69F00" fill-opacity="0.17"/>
<circle cx="615.8" cy="287.5" r="3.3" fill="#56B4E9" fill-opacity="0.17"/>
<circle cx="614.8" cy="294.0" r="3.3" fill="#000000" fill-opacity="0.17"/>
<circle cx="663.0" cy="215.2" r="3.3" fill="#000000" fill-opacity="0.17"/>
<circle cx="664.2" cy="223.4" r="3.3" fill="#56B4E9" fill-opacity="0.17"/>
<circle cx="667.8" cy="223.4" r="3.3" fill="#000000" fill-opacity="0.17"/>
<circle cx="667.8" cy="223.4" r="3.3" fill="#56B4E9" fill-opacity="0.17"/>
<circle cx="671.8" cy="223.4" r="3.3" fill="#000000" fill-opacity="0.17"/>
<circle cx="664.2" cy="233.3" r="3.3" fill="#56B4E9" fill-opacity="0.17"/>
<circle cx="670.0" cy="233.3" r="3.3" fill="#E69F00" fill-opacity="0.17"/>
<circle cx="672.0" cy="234.0" r="3.3" fill="#56B4E9" fill-opacity="0.17"/>
<circle cx="664.2" cy="240.6" r="3.3" fill="#000000" fill-opacity="0.17"/>
<circle cx="664.2" cy="240.6" r="3.3" fill="#56B4E9" fill-opacity="0.17"/>
<circle cx="671.0" cy="240.0" r="3.3" fill="#56B4E9" fill-opacity="0.17"/>
<circle cx="669.8" cy="247.9" r="3.3" fill="#E69F00" fill-opacity="0.17"/>
<circle cx="666.4" cy="259.1" r="3.3" fill="#000000" fill-opacity="0.17"/>
<circle cx="666.4" cy="259.1" r="3.3" fill="#56B4E9" fill-opacity="0.17"/>
<circle cx="669.3" cy="267.1" r="3.3" fill="#E69F00" fill-opacity="0.17"/>
<circle cx="663.4" cy="270.8" r="3.3" fill="#E69F00" fill-opacity="0.17"/>
<circle cx="663.4" cy="270.8" r="3.3" fill="#000000" fill-opacity="0.17"/>
<circle cx="667.1" cy="271.5" r="3.3" fill="#000000" fill-opacity="0.17"/>
<circle cx="669.3" cy="277.4" r="3.3" fill="#56B4E9" fill-opacity="0.17"/>
<circle cx="669.3" cy="277.4" r="3.3" fill="#000000" fill-opacity="0.17"/>
<circle cx="665.6" cy="279.6" r="3.3" fill="#E69F00" fill-opacity="0.17"/>
<circle cx="662.7" cy="287.1" r="3.3" fill="#56B4E9" fill-opacity="0.17"/>
<circle cx="667.8" cy="289.5" r="3.3" fill="#56B4E9" fill-opacity="0.17"/>
<circle cx="667.8" cy="293.2" r="3.3" fill="#000000" fill-opacity="0.17"/>
<circle cx="667.8" cy="293.2" r="3.3" fill="#56B4E9" fill-opacity="0.17"/>
<circle cx="662.7" cy="296.3" r="3.3" fill="#E69F00" fill-opacity="0.17"/>
<polyline points="417.0,167.6 467.0,207.8 517.0,221.1 567.0,233.6 617.0,245.9 667.0,250.4" fill="none" stroke="#000000" stroke-width="2.0" stroke-linejoin="round"/>
<polyline points="417.0,152.6 467.0,198.4 517.0,221.6 567.0,234.7 617.0,248.3 667.0,257.6" fill="none" stroke="#E69F00" stroke-width="2.0" stroke-linejoin="round"/>
<polyline points="417.0,166.1 467.0,201.2 517.0,220.5 567.0,233.6 617.0,246.2 667.0,250.4" fill="none" stroke="#56B4E9" stroke-width="2.0" stroke-linejoin="round"/>
<polygon points="417.0,148.4 467.0,187.1 517.0,206.9 567.0,220.5 617.0,233.5 667.0,238.3 667.0,260.8 617.0,256.1 567.0,245.6 517.0,234.1 467.0,227.9 417.0,192.3" fill="#000000" fill-opacity="0.2"/>
<polygon points="417.0,129.5 467.0,177.7 517.0,205.4 567.0,219.5 617.0,238.3 667.0,246.3 667.0,265.9 617.0,258.2 567.0,246.7 517.0,231.0 467.0,215.8 417.0,182.2" fill="#E69F00" fill-opacity="0.2"/>
<polygon points="417.0,148.4 467.0,187.1 517.0,207.5 567.0,221.1 617.0,235.3 667.0,240.2 667.0,260.4 617.0,255.6 567.0,245.1 517.0,231.0 467.0,217.4 417.0,188.6" fill="#56B4E9" fill-opacity="0.2"/>
<rect x="74.6" y="63.5" width="3" height="13" fill="#E69F00" fill-opacity="0.2"/>
<path d="M57.9,22.7 V310.3 H343.8" fill="none" stroke="#5c5c5c" stroke-width="1.45" stroke-linejoin="round"/>
<line x1="50.4" y1="297.4" x2="57.9" y2="297.4" stroke="#5c5c5c" stroke-width="1.45"/>
<text x="43.6" y="301.4" text-anchor="end" class="t">0</text>
<line x1="50.4" y1="245.0" x2="57.9" y2="245.0" stroke="#5c5c5c" stroke-width="1.45"/>
<text x="43.6" y="249.0" text-anchor="end" class="t">5</text>
<line x1="50.4" y1="192.7" x2="57.9" y2="192.7" stroke="#5c5c5c" stroke-width="1.45"/>
<text x="43.6" y="196.7" text-anchor="end" class="t">10</text>
<line x1="50.4" y1="140.3" x2="57.9" y2="140.3" stroke="#5c5c5c" stroke-width="1.45"/>
<text x="43.6" y="144.3" text-anchor="end" class="t">15</text>
<line x1="50.4" y1="88.0" x2="57.9" y2="88.0" stroke="#5c5c5c" stroke-width="1.45"/>
<text x="43.6" y="92.0" text-anchor="end" class="t">20</text>
<line x1="50.4" y1="35.6" x2="57.9" y2="35.6" stroke="#5c5c5c" stroke-width="1.45"/>
<text x="43.6" y="39.6" text-anchor="end" class="t">25</text>
<line x1="75.9" y1="310.3" x2="75.9" y2="317.6" stroke="#5c5c5c" stroke-width="1.45"/>
<text x="75.1" y="337.1" text-anchor="middle" class="t">1</text>
<line x1="125.9" y1="310.3" x2="125.9" y2="317.6" stroke="#5c5c5c" stroke-width="1.45"/>
<text x="125.1" y="337.1" text-anchor="middle" class="t">2</text>
<line x1="175.9" y1="310.3" x2="175.9" y2="317.6" stroke="#5c5c5c" stroke-width="1.45"/>
<text x="175.1" y="337.1" text-anchor="middle" class="t">3</text>
<line x1="225.9" y1="310.3" x2="225.9" y2="317.6" stroke="#5c5c5c" stroke-width="1.45"/>
<text x="225.1" y="337.1" text-anchor="middle" class="t">4</text>
<line x1="275.9" y1="310.3" x2="275.9" y2="317.6" stroke="#5c5c5c" stroke-width="1.45"/>
<text x="275.1" y="337.1" text-anchor="middle" class="t">5</text>
<line x1="325.9" y1="310.3" x2="325.9" y2="317.6" stroke="#5c5c5c" stroke-width="1.45"/>
<text x="325.1" y="337.1" text-anchor="middle" class="t">6</text>
<path d="M399.1,22.6 V310.3 H685" fill="none" stroke="#5c5c5c" stroke-width="1.45" stroke-linejoin="round"/>
<line x1="391.6" y1="296.9" x2="399.1" y2="296.9" stroke="#5c5c5c" stroke-width="1.45"/>
<text x="385.0" y="300.9" text-anchor="end" class="t">0</text>
<line x1="391.6" y1="244.6" x2="399.1" y2="244.6" stroke="#5c5c5c" stroke-width="1.45"/>
<text x="385.0" y="248.6" text-anchor="end" class="t">5</text>
<line x1="391.6" y1="192.3" x2="399.1" y2="192.3" stroke="#5c5c5c" stroke-width="1.45"/>
<text x="385.0" y="196.3" text-anchor="end" class="t">10</text>
<line x1="391.6" y1="140.0" x2="399.1" y2="140.0" stroke="#5c5c5c" stroke-width="1.45"/>
<text x="385.0" y="144.0" text-anchor="end" class="t">15</text>
<line x1="391.6" y1="87.7" x2="399.1" y2="87.7" stroke="#5c5c5c" stroke-width="1.45"/>
<text x="385.0" y="91.7" text-anchor="end" class="t">20</text>
<line x1="391.6" y1="35.4" x2="399.1" y2="35.4" stroke="#5c5c5c" stroke-width="1.45"/>
<text x="385.0" y="39.4" text-anchor="end" class="t">25</text>
<line x1="417.0" y1="310.3" x2="417.0" y2="317.6" stroke="#5c5c5c" stroke-width="1.45"/>
<text x="416.2" y="335.7" text-anchor="middle" class="t">1</text>
<line x1="467.0" y1="310.3" x2="467.0" y2="317.6" stroke="#5c5c5c" stroke-width="1.45"/>
<text x="466.2" y="335.7" text-anchor="middle" class="t">2</text>
<line x1="517.0" y1="310.3" x2="517.0" y2="317.6" stroke="#5c5c5c" stroke-width="1.45"/>
<text x="516.2" y="335.7" text-anchor="middle" class="t">3</text>
<line x1="567.0" y1="310.3" x2="567.0" y2="317.6" stroke="#5c5c5c" stroke-width="1.45"/>
<text x="566.2" y="335.7" text-anchor="middle" class="t">4</text>
<line x1="617.0" y1="310.3" x2="617.0" y2="317.6" stroke="#5c5c5c" stroke-width="1.45"/>
<text x="616.2" y="335.7" text-anchor="middle" class="t">5</text>
<line x1="667.0" y1="310.3" x2="667.0" y2="317.6" stroke="#5c5c5c" stroke-width="1.45"/>
<text x="666.2" y="335.7" text-anchor="middle" class="t">6</text>
<text x="27.6" y="19" class="pl">a</text>
<text x="368.6" y="19.2" class="pl">b</text>
<text x="142.2" y="366" class="l" textLength="117" lengthAdjust="spacingAndGlyphs">Order in chain</text>
<text x="483" y="362.7" class="l" textLength="117" lengthAdjust="spacingAndGlyphs">Order in chain</text>
<text transform="translate(13.9,213.4) rotate(-90)" class="l" textLength="93.5" lengthAdjust="spacingAndGlyphs">Story score</text>
<text x="138.6" y="405.6" class="l" textLength="88.5" lengthAdjust="spacingAndGlyphs">Chain type</text>
<rect x="236.8" y="393.2" width="14.3" height="14.5" fill="#000000" fill-opacity="0.2"/>
<line x1="238.10000000000002" y1="400.6" x2="249.8" y2="400.6" stroke="#000000" stroke-width="1.1"/>
<text x="260.8" y="405.6" class="l" textLength="99" lengthAdjust="spacingAndGlyphs">Non-autistic</text>
<rect x="398.0" y="393.2" width="14.3" height="14.5" fill="#E69F00" fill-opacity="0.2"/>
<line x1="399.3" y1="400.6" x2="411.0" y2="400.6" stroke="#E69F00" stroke-width="1.1"/>
<text x="419.6" y="405.6" class="l" textLength="61.5" lengthAdjust="spacingAndGlyphs">Autistic</text>
<rect x="519.8" y="393.2" width="14.3" height="14.5" fill="#56B4E9" fill-opacity="0.2"/>
<line x1="521.0999999999999" y1="400.6" x2="532.8" y2="400.6" stroke="#56B4E9" stroke-width="1.1"/>
<text x="540.6" y="405.6" class="l" textLength="49" lengthAdjust="spacingAndGlyphs">Mixed</text>
</svg>
</body></html>
